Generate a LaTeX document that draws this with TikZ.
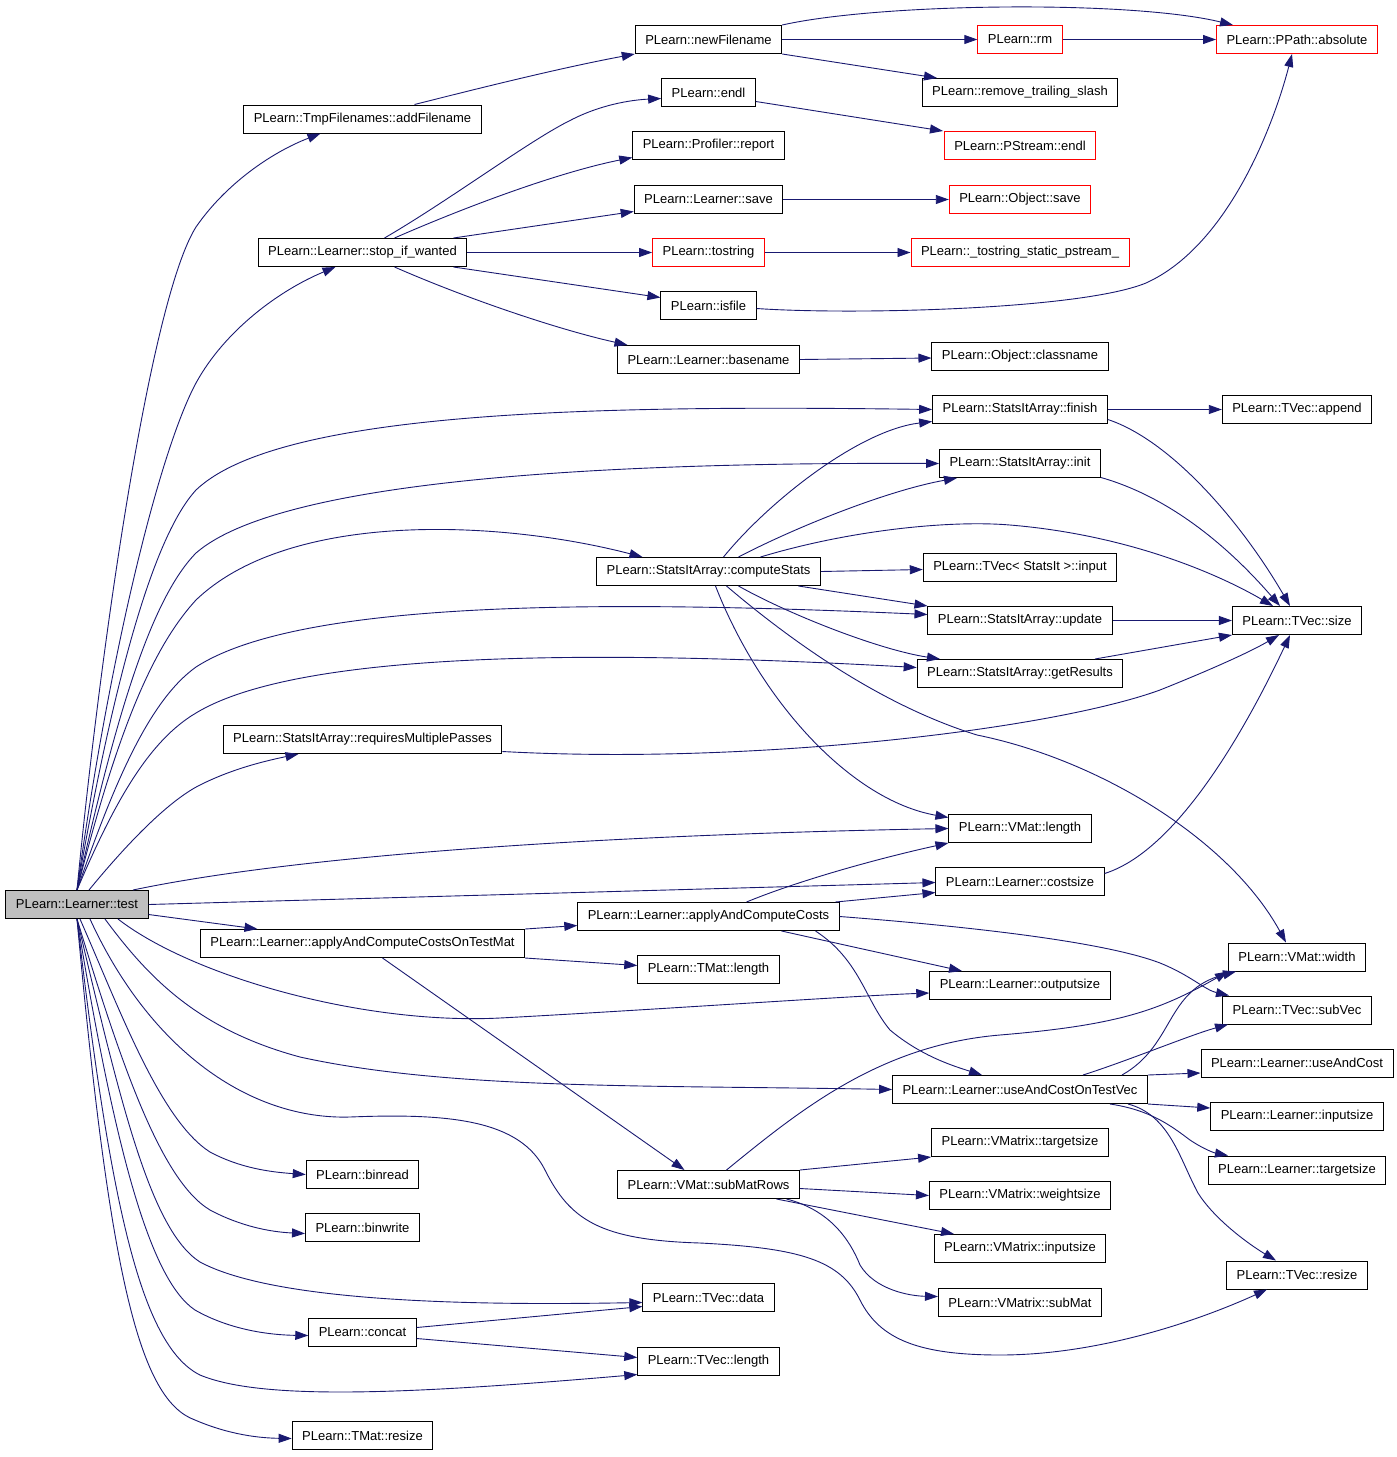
\documentclass[tikz,border=0pt]{standalone}
\usepackage{fontspec}
\setmainfont{Liberation Sans}
\usepackage{tikz}
\usetikzlibrary{arrows.meta}
\definecolor{dxblue}{RGB}{25,25,112}
\definecolor{dxred}{RGB}{255,0,0}
\definecolor{dxgray}{RGB}{191,191,191}

\tikzset{
  fn/.style={draw=black, line width=1pt, rectangle, minimum height=28pt, inner xsep=10pt,
    inner ysep=0pt, fill=white, font=\fontsize{13}{15}\selectfont},
  extfn/.style={fn, draw=dxred},
  rootfn/.style={fn, fill=dxgray},
  call/.style={draw=dxblue, line width=0.9pt, -{Triangle[length=13pt,width=9pt]}}
}

\begin{document}
\begin{tikzpicture}[x=1pt,y=-1pt]
\useasboundingbox (0,0) rectangle (1397,1457);

% Functions
\node[rootfn] (test) at (77,904.5) {PLearn::Learner::test};
\node[fn] (addFilename) at (362.5,119) {PLearn::TmpFilenames::addFilename};
\node[fn] (stopWanted) at (362.5,252.5) {PLearn::Learner::stop\_if\_wanted};
\node[fn] (multiPasses) at (362.5,739.5) {PLearn::StatsItArray::requiresMultiplePasses};
\node[fn] (costsTestMat) at (362.5,943.5) {PLearn::Learner::applyAndComputeCostsOnTestMat};
\node[fn] (binread) at (362.5,1174.5) {PLearn::binread};
\node[fn] (binwrite) at (362.5,1227.5) {PLearn::binwrite};
\node[fn] (concat) at (362.5,1332.5) {PLearn::concat};
\node[fn] (tmResize) at (362.5,1435.5) {PLearn::TMat::resize};

\node[fn] (newFilename) at (708.5,39.5) {PLearn::newFilename};
\node[fn] (endl) at (708.5,92.5) {PLearn::endl};
\node[fn] (report) at (708.5,145.5) {PLearn::Profiler::report};
\node[fn] (lSave) at (708.5,199.5) {PLearn::Learner::save};
\node[extfn] (tostring) at (708.5,252.5) {PLearn::tostring};
\node[fn] (isfile) at (708.5,305.5) {PLearn::isfile};
\node[fn] (basename) at (708.5,359.5) {PLearn::Learner::basename};
\node[fn] (computeStats) at (708.5,571.5) {PLearn::StatsItArray::computeStats};
\node[fn] (applyCosts) at (708.5,916.5) {PLearn::Learner::applyAndComputeCosts};
\node[fn] (tmLength) at (708.5,969.5) {PLearn::TMat::length};
\node[fn] (subMatRows) at (708.5,1184.5) {PLearn::VMat::subMatRows};
\node[fn] (tvData) at (708.5,1297.5) {PLearn::TVec::data};
\node[fn] (tvLength) at (708.5,1361.5) {PLearn::TVec::length};

\node[extfn] (rm) at (1020,39.5) {PLearn::rm};
\node[fn] (trailSlash) at (1020,92.5) {PLearn::remove\_trailing\_slash};
\node[extfn] (psEndl) at (1020,145.5) {PLearn::PStream::endl};
\node[extfn] (oSave) at (1020,199.5) {PLearn::Object::save};
\node[extfn] (tostrPs) at (1020,252.5) {PLearn::\_tostring\_static\_pstream\_};
\node[fn] (classname) at (1020,356.5) {PLearn::Object::classname};
\node[fn] (finish) at (1020,409.5) {PLearn::StatsItArray::finish};
\node[fn] (init) at (1020,463.5) {PLearn::StatsItArray::init};
\node[fn] (input) at (1020,567.5) {PLearn::TVec< StatsIt >::input};
\node[fn] (update) at (1020,620.5) {PLearn::StatsItArray::update};
\node[fn] (getResults) at (1020,673.5) {PLearn::StatsItArray::getResults};
\node[fn] (vmLength) at (1020,828.5) {PLearn::VMat::length};
\node[fn] (costsize) at (1020,881.5) {PLearn::Learner::costsize};
\node[fn] (outputsize) at (1020,985.5) {PLearn::Learner::outputsize};
\node[fn] (costsTestVec) at (1020,1089.5) {PLearn::Learner::useAndCostOnTestVec};
\node[fn] (vxTargetsize) at (1020,1142.5) {PLearn::VMatrix::targetsize};
\node[fn] (weightsize) at (1020,1195.5) {PLearn::VMatrix::weightsize};
\node[fn] (vxInputsize) at (1020,1248.5) {PLearn::VMatrix::inputsize};
\node[fn] (subMat) at (1020,1302.5) {PLearn::VMatrix::subMat};

\node[extfn] (absolute) at (1297,39.5) {PLearn::PPath::absolute};
\node[fn] (append) at (1297,409.5) {PLearn::TVec::append};
\node[fn] (tvSize) at (1297,620.5) {PLearn::TVec::size};
\node[fn] (vmWidth) at (1297,957) {PLearn::VMat::width};
\node[fn] (subVec) at (1297,1010) {PLearn::TVec::subVec};
\node[fn] (useAndCost) at (1297,1063) {PLearn::Learner::useAndCost};
\node[fn] (lInputsize) at (1297,1116) {PLearn::Learner::inputsize};
\node[fn] (lTargetsize) at (1297,1170) {PLearn::Learner::targetsize};
\node[fn] (tvResize) at (1297,1275) {PLearn::TVec::resize};

% Calls from test
\draw[call] (test.north) .. controls (100,650) and (150,300) .. (196,227)
  .. controls (225,185) and (270,153) .. ([xshift=-42pt]addFilename.south);
\draw[call] (test.north) .. controls (110,650) and (160,450) .. (196,383)
  .. controls (225,330) and (280,290) .. ([xshift=-27pt]stopWanted.south);
\draw[call] (test.north) .. controls (110,700) and (150,540) .. (196,490)
  .. controls (280,410) and (600,405) .. (finish.west);
\draw[call] (test.north) .. controls (115,720) and (150,600) .. (196,553)
  .. controls (280,480) and (600,462) .. (init.west);
\draw[call] (test.north) .. controls (115,740) and (150,650) .. (196,600)
  .. controls (290,510) and (500,520) .. ([xshift=-66pt]computeStats.north);
\draw[call] (test.north) .. controls (115,780) and (150,700) .. (196,667)
  .. controls (300,600) and (600,600) .. ([yshift=6pt]update.west);
\draw[call] (test.north) .. controls (115,800) and (150,740) .. (196,713)
  .. controls (300,650) and (600,650) .. ([yshift=6pt]getResults.west);
\draw[call] ([xshift=12pt]test.north) .. controls (130,840) and (170,800) .. (200,785)
  .. controls (230,770) and (260,762) .. ([xshift=-64pt]multiPasses.south);
\draw[call] ([xshift=56pt]test.north) .. controls (300,855) and (600,835) .. (vmLength.west);
\draw[call] (test.east) -- ([yshift=-1pt]costsize.west);
\draw[call] ([yshift=-10pt]test.east) -- ([xshift=-105pt]costsTestMat.north);
\draw[call] ([xshift=41pt]test.south) .. controls (190,975) and (360,1025) .. (500,1018)
  .. controls (650,1010) and (850,996) .. ([yshift=-7.5pt]outputsize.west);
\draw[call] ([xshift=28pt]test.south) .. controls (150,980) and (200,1030) .. (300,1057)
  .. controls (450,1090) and (650,1085) .. (costsTestVec.west);
\draw[call] ([xshift=3pt]test.south) .. controls (120,1010) and (160,1120) .. (210,1152)
  .. controls (240,1168) and (270,1172) .. (binread.west);
\draw[call] (test.south) .. controls (120,1060) and (160,1180) .. (210,1210)
  .. controls (240,1226) and (270,1232) .. ([yshift=-6pt]binwrite.west);
\draw[call] (test.south) .. controls (120,1100) and (150,1230) .. (200,1262)
  .. controls (280,1305) and (500,1305) .. ([yshift=-5pt]tvData.west);
\draw[call] (test.south) .. controls (115,1150) and (150,1280) .. (195,1310)
  .. controls (230,1330) and (270,1335) .. ([yshift=-3pt]concat.west);
\draw[call] (test.south) .. controls (110,1200) and (140,1345) .. (200,1375)
  .. controls (260,1400) and (400,1395) .. ([yshift=-13pt]tvLength.west);
\draw[call] (test.south) .. controls (110,1280) and (140,1400) .. (195,1420)
  .. controls (230,1435) and (260,1438) .. ([yshift=-3pt]tmResize.west);
\draw[call] ([xshift=13pt]test.south) .. controls (150,1050) and (250,1120) .. (350,1117)
  .. controls (450,1113) and (520,1120) .. (545,1170)
  .. controls (570,1220) and (600,1240) .. (700,1243)
  .. controls (800,1248) and (840,1260) .. (860,1300)
  .. controls (880,1340) and (920,1355) .. (1000,1355)
  .. controls (1100,1355) and (1200,1320) .. ([xshift=-30pt]tvResize.south);

% Upper calls
\draw[call] ([xshift=52pt]addFilename.north) .. controls (480,88) and (560,68) .. (newFilename.south west);
\draw[call] (newFilename.north east) .. controls (880,3) and (1130,0) .. ([xshift=-64pt]absolute.north);
\draw[call] (newFilename.east) -- (rm.west);
\draw[call] (newFilename.south east) -- ([xshift=-83pt]trailSlash.north);
\draw[call] (rm.east) -- (absolute.west);
\draw[call] ([xshift=22pt]stopWanted.north) .. controls (450,200) and (530,140) .. (571,120)
  .. controls (600,105) and (630,100) .. ([yshift=-6pt]endl.west);
\draw[call] ([xshift=32pt]stopWanted.north) .. controls (470,205) and (560,172) .. ([yshift=-12pt]report.west);
\draw[call] ([xshift=91pt]stopWanted.north) -- ([yshift=-12pt]lSave.west);
\draw[call] (stopWanted.east) -- (tostring.west);
\draw[call] ([xshift=91pt]stopWanted.south) -- ([yshift=8pt]isfile.west);
\draw[call] ([xshift=32pt]stopWanted.south) .. controls (470,300) and (560,330) .. ([xshift=-81pt]basename.north);
\draw[call] ([yshift=-9pt]endl.east) -- ([xshift=-77pt]psEndl.north);
\draw[call] (lSave.east) -- (oSave.west);
\draw[call] (tostring.east) -- (tostrPs.west);
\draw[call] ([yshift=-3pt]isfile.east) .. controls (850,315) and (1080,310) .. (1146,283)
  .. controls (1230,245) and (1275,120) .. ([xshift=-5pt]absolute.south);
\draw[call] (basename.east) -- ([yshift=-1.5pt]classname.west);

% StatsItArray calls
\draw[call] (finish.east) -- (append.west);
\draw[call] ([yshift=-10pt]finish.east) .. controls (1170,440) and (1240,520) .. ([xshift=-7pt]tvSize.north);
\draw[call] ([yshift=-14pt]init.east) .. controls (1180,500) and (1240,560) .. ([xshift=-17pt]tvSize.north);
\draw[call] ([xshift=15pt]computeStats.north) .. controls (770,500) and (860,430) .. ([yshift=-12pt]finish.west);
\draw[call] ([xshift=30pt]computeStats.north) .. controls (800,525) and (890,490) .. ([xshift=-63pt]init.south);
\draw[call] ([xshift=52pt]computeStats.north) .. controls (850,530) and (950,520) .. (1010,525)
  .. controls (1130,535) and (1220,575) .. ([xshift=-24pt]tvSize.north);
\draw[call] (computeStats.east) -- ([yshift=-2pt]input.west);
\draw[call] ([xshift=90pt]computeStats.south) -- (update.north west);
\draw[call] ([xshift=30pt]computeStats.south) .. controls (790,615) and (880,650) .. ([xshift=-80pt]getResults.north);
\draw[call] ([xshift=7pt]computeStats.south) .. controls (760,700) and (850,800) .. ([yshift=11pt]vmLength.west);
\draw[call] ([xshift=18pt]computeStats.south) .. controls (790,640) and (880,705) .. (977,735)
  .. controls (1100,760) and (1230,840) .. ([xshift=-11pt]vmWidth.north);
\draw[call] (update.east) -- (tvSize.west);
\draw[call] ([xshift=75pt]getResults.north) -- (tvSize.south west);
\draw[call] ([yshift=-12pt]multiPasses.east) .. controls (750,765) and (1050,730) .. (1160,690)
  .. controls (1210,670) and (1250,652) .. ([xshift=-18pt]tvSize.south);
\draw[call] ([yshift=8pt]costsize.east) .. controls (1180,850) and (1250,720) .. ([xshift=-7pt]tvSize.south);

% Learner calls
\draw[call] (costsTestMat.north east) -- ([yshift=-9pt]applyCosts.west);
\draw[call] (costsTestMat.south east) -- ([yshift=4pt]tmLength.west);
\draw[call] ([xshift=20pt]costsTestMat.south) -- ([xshift=-24pt]subMatRows.north);
\draw[call] ([xshift=38pt]applyCosts.north) .. controls (800,880) and (880,858) .. (vmLength.south west);
\draw[call] ([xshift=127pt]applyCosts.north) -- ([yshift=-11pt]costsize.west);
\draw[call] ([xshift=73pt]applyCosts.south) -- ([xshift=-58pt]outputsize.north);
\draw[call] (applyCosts.east) .. controls (950,925) and (1100,940) .. (1160,963)
  .. controls (1190,975) and (1205,990) .. ([xshift=-68pt]subVec.north);
\draw[call] ([xshift=107pt]applyCosts.south) .. controls (860,960) and (865,1000) .. (890,1030)
  .. controls (920,1055) and (950,1065) .. ([xshift=-38pt]costsTestVec.north);
\draw[call] ([xshift=18pt]subMatRows.north) .. controls (800,1110) and (880,1045) .. (1000,1035)
  .. controls (1120,1025) and (1160,1010) .. ([xshift=-69pt]vmWidth.south);
\draw[call] (subMatRows.north east) -- (vxTargetsize.south west);
\draw[call] ([yshift=-4pt]subMatRows.east) -- (weightsize.west);
\draw[call] ([xshift=68pt]subMatRows.south) -- ([xshift=-66pt]vxInputsize.north);
\draw[call] ([xshift=78pt]subMatRows.south) .. controls (830,1210) and (850,1240) .. (860,1265)
  .. controls (875,1290) and (910,1296) .. ([yshift=6pt]subMat.west);
\draw[call] ([xshift=102pt]costsTestVec.north) .. controls (1175,1045) and (1165,990) .. ([xshift=-61pt]vmWidth.south);
\draw[call] ([xshift=63pt]costsTestVec.north) .. controls (1130,1060) and (1190,1035) .. ([xshift=-69pt]subVec.south);
\draw[call] (costsTestVec.north east) -- ([yshift=-10pt]useAndCost.west);
\draw[call] (costsTestVec.south east) -- ([yshift=8pt]lInputsize.west);
\draw[call] ([xshift=90pt]costsTestVec.south) .. controls (1150,1110) and (1170,1125) .. (1190,1140)
  .. controls (1205,1150) and (1215,1153) .. ([xshift=-69pt]lTargetsize.north);
\draw[call] ([xshift=108pt]costsTestVec.south) .. controls (1170,1115) and (1180,1160) .. (1198,1193)
  .. controls (1215,1220) and (1250,1245) .. ([xshift=-21pt]tvResize.north);
\draw[call] ([yshift=5pt]concat.east) -- ([yshift=-9pt]tvData.west);
\draw[call] ([yshift=-6pt]concat.east) -- ([yshift=4pt]tvLength.west);
\end{tikzpicture}
\end{document}
